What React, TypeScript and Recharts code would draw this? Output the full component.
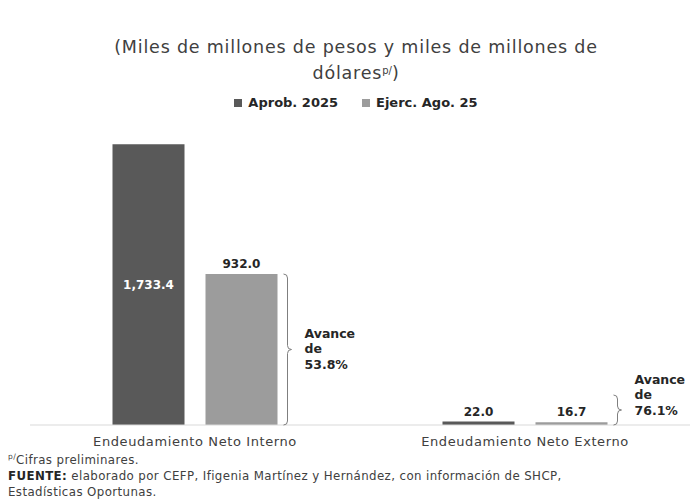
import React from "react";
import { BarChart, Bar, XAxis, YAxis, LabelList } from "recharts";

const categories = ["Endeudamiento Neto Interno", "Endeudamiento Neto Externo"];
const aprob2025 = [1733.4, 22.0];
const ejercAgo25 = [932.0, 16.7];
const avance = ["53.8%", "76.1%"];

const seriesNames = { aprob: "Aprob. 2025", ejerc: "Ejerc. Ago. 25" };
const COLORS = { aprob: "#595959", ejerc: "#9c9c9c" };
const FONT = "'DejaVu Sans', sans-serif";

const data = categories.map((c, i) => ({
  name: c,
  aprob: aprob2025[i],
  ejerc: ejercAgo25[i],
  avance: avance[i],
}));

const fmt = (v: number) =>
  Number(v).toLocaleString("en-US", { minimumFractionDigits: 1, maximumFractionDigits: 1 });

const labelStyle = { fontSize: 12, fontWeight: "bold" as const, fontFamily: FONT };

const AprobLabel = (props: any) => {
  const { x, y, width, height, value } = props;
  const cx = x + width / 2;
  if (height > 40) {
    return (
      <text x={cx} y={y + height / 2 + 1} textAnchor="middle" dominantBaseline="middle"
        fill="#ffffff" {...labelStyle}>
        {fmt(value)}
      </text>
    );
  }
  return (
    <text x={cx} y={y - 5} textAnchor="middle" fill="#262626" {...labelStyle}>
      {fmt(value)}
    </text>
  );
};

const EjercLabel = (props: any) => {
  const { x, y, width, value } = props;
  return (
    <text x={x + width / 2} y={y - 6} textAnchor="middle" fill="#262626" {...labelStyle}>
      {fmt(value)}
    </text>
  );
};

const BracketLabel = (props: any) => {
  const { x, y, width, height, value } = props;
  const bottom = y + height;
  const top = Math.min(y, bottom - 30);
  const mid = (top + bottom) / 2;
  const x0 = x + width + 10;
  const r = 4;
  const d = `M ${x0 - r} ${top} Q ${x0} ${top} ${x0} ${top + r} L ${x0} ${mid - r} Q ${x0} ${mid} ${x0 + r} ${mid} Q ${x0} ${mid} ${x0} ${mid + r} L ${x0} ${bottom - r} Q ${x0} ${bottom} ${x0 - r} ${bottom}`;
  const tc = Math.min(mid, bottom - 30);
  const tx = x0 + 17;
  const style = { fontSize: 12.5, fontWeight: "bold" as const, fontFamily: FONT, fill: "#262626" };
  return (
    <g>
      <path d={d} fill="none" stroke="#7f7f7f" strokeWidth={1} />
      <text x={tx} y={tc - 15} dominantBaseline="middle" {...style}>Avance</text>
      <text x={tx} y={tc} dominantBaseline="middle" {...style}>de</text>
      <text x={tx} y={tc + 16} dominantBaseline="middle" {...style}>{value}</text>
    </g>
  );
};

export default function App() {
  return (
    <div style={{ position: "absolute", left: 0, top: 0, width: 692, height: 501, background: "#fff" }}>
      <div style={{ position: "absolute", top: 34, left: 0, width: 712, textAlign: "center",
        fontFamily: FONT, fontSize: 17.5, letterSpacing: 0.8, color: "#404040", lineHeight: "26px" }}>
        (Miles de millones de pesos y miles de millones de
        <br />
        dólares<sup style={{ fontSize: 10, verticalAlign: "top", position: "relative", top: -2, letterSpacing: 0 }}>p/</sup>)
      </div>
      <div style={{ position: "absolute", top: 95, left: 0, width: 712, display: "flex",
        justifyContent: "center", gap: 24, fontFamily: FONT, fontSize: 13, fontWeight: "bold",
        color: "#262626", lineHeight: "16px" }}>
        {(["aprob", "ejerc"] as const).map((k) => (
          <span key={k} style={{ display: "flex", alignItems: "center" }}>
            <span style={{ width: 8, height: 8, background: COLORS[k], display: "inline-block", marginRight: 6 }} />
            {seriesNames[k]}
          </span>
        ))}
      </div>
      <BarChart width={692} height={501} data={data}
        margin={{ top: 101, right: 2, bottom: 46, left: 30 }}
        barCategoryGap="25%" barGap={21}>
        <XAxis dataKey="name" axisLine={{ stroke: "#d9d9d9" }} tickLine={false}
          tick={{ fontFamily: FONT, fontSize: 13, fill: "#404040", letterSpacing: 0.6, dy: 4 }}
          height={30} interval={0} />
        <YAxis hide domain={[0, 2000]} />
        <Bar dataKey="aprob" name={seriesNames.aprob} fill={COLORS.aprob} isAnimationActive={false}>
          <LabelList dataKey="aprob" content={<AprobLabel />} />
        </Bar>
        <Bar dataKey="ejerc" name={seriesNames.ejerc} fill={COLORS.ejerc} isAnimationActive={false}>
          <LabelList dataKey="ejerc" content={<EjercLabel />} />
          <LabelList dataKey="avance" content={<BracketLabel />} />
        </Bar>
      </BarChart>
      <div style={{ position: "absolute", top: 449, left: 8, fontFamily: FONT, fontSize: 11.8,
        letterSpacing: 0.4, color: "#404040", lineHeight: "16px" }}>
        <div><sup style={{ fontSize: 7.5 }}>p/</sup>Cifras preliminares.</div>
        <div><b style={{ color: "#262626" }}>FUENTE:</b> elaborado por CEFP, Ifigenia Martínez y Hernández, con información de SHCP,</div>
        <div>Estadísticas Oportunas.</div>
      </div>
    </div>
  );
}
